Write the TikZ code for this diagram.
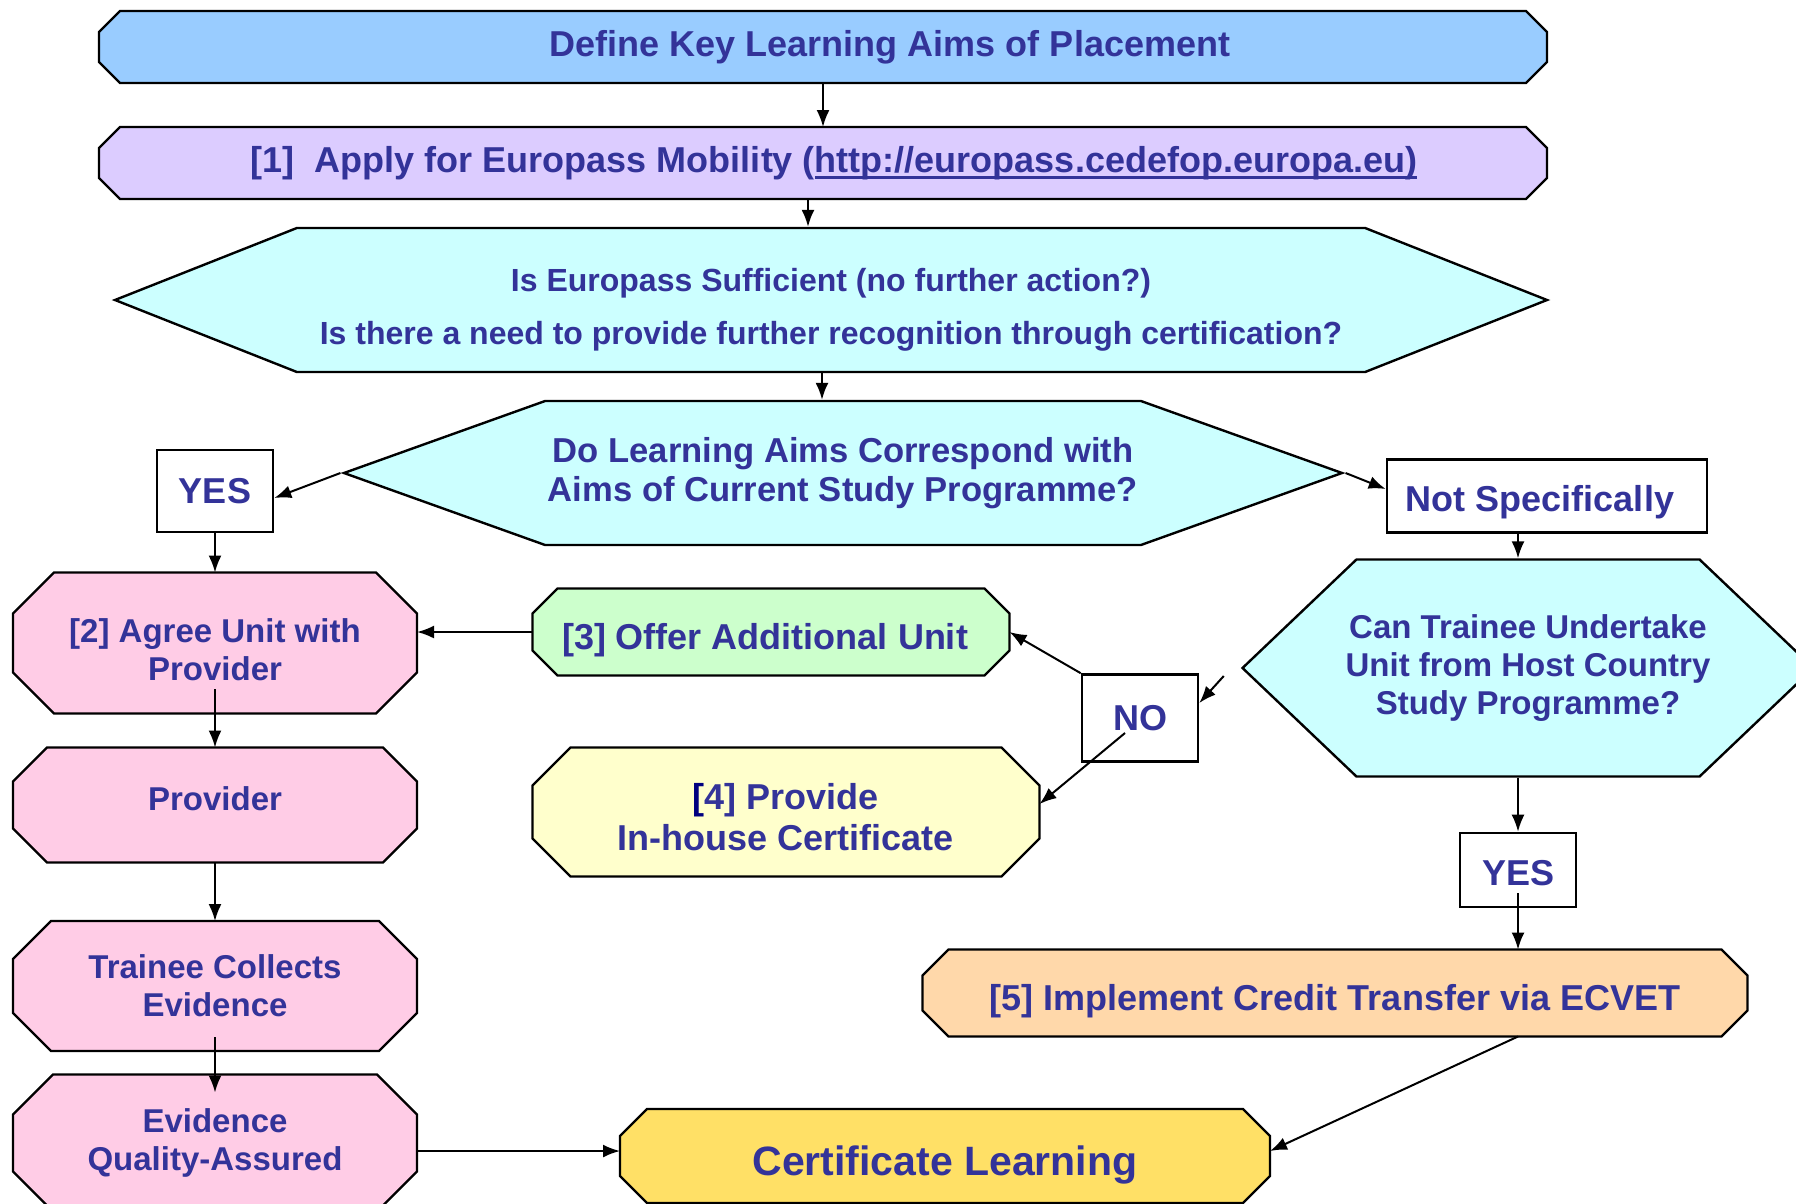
\documentclass[tikz,border=0pt]{standalone}
\usepackage{fontspec}
\setmainfont{Liberation Sans}
\usetikzlibrary{shapes.symbols,arrows.meta,backgrounds}

\definecolor{ink}{HTML}{333399}
\definecolor{navy}{HTML}{000080}
\definecolor{keyblue}{HTML}{99CCFF}
\definecolor{lilac}{HTML}{DCCCFF}
\definecolor{quest}{HTML}{CCFFFF}
\definecolor{rosy}{HTML}{FFCCE6}
\definecolor{mint}{HTML}{CCFFCC}
\definecolor{cream}{HTML}{FFFFCC}
\definecolor{peach}{HTML}{FFD8AA}
\definecolor{gold}{HTML}{FFE066}

\newsavebox\linkbox
\newcommand\weblink[1]{\sbox\linkbox{#1}\rlap{\rule[-6.4pt]{\wd\linkbox}{2.4pt}}\usebox\linkbox}

\tikzset{
  octbox/.style={rectangle, inner sep=0pt, outer sep=0pt, align=center, text=ink},
  octline/.style={draw, line width=2.4pt},
  hexbox/.style={signal, signal to=west and east, draw, line width=2.4pt, fill=quest, inner sep=0pt, align=center, text=ink},
  answer/.style={rectangle, draw, line width=2.6pt, fill=white, inner sep=0pt, text=ink, minimum width=116pt},
  big/.style={font=\bfseries\fontsize{36}{40}\selectfont},
  mid/.style={font=\bfseries\fontsize{33}{38}\selectfont},
  flow/.style={-{Latex[length=17pt,width=13pt]}, line width=2pt},
}

\begin{document}
\begin{tikzpicture}[x=1pt,y=-1pt]

  \useasboundingbox (0,0) rectangle (1796,1203);

  % Define nodes

  \node[octbox, big, minimum width=1448pt, minimum height=72pt] (aims) at (823,47) {\hspace*{134pt}Define Key Learning Aims of Placement};
  \node[octbox, big, minimum width=1448pt, minimum height=72pt] (europass) at (823,163) {\hspace*{22pt}[1]\ \ Apply for Europass Mobility (\weblink{http://europass.cedefop.europa.eu)}};
  \node[hexbox, font=\bfseries\fontsize{32}{53}\selectfont, text height=88pt, text depth=0pt, minimum width=1432pt, minimum height=144pt, signal pointer angle=43.2] (sufficient) at (831,300) {Is Europass Sufficient (no further action?)\\Is there a need to provide further recognition through certification?};
  \node[hexbox, font=\bfseries\fontsize{34.6}{39}\selectfont, minimum width=998pt, minimum height=144pt, signal pointer angle=39.4] (correspond) at (843,473) {Do Learning Aims Correspond with\\Aims of Current Study Programme?};

  \node[answer, big, minimum height=82pt] (yesA) at (215,491) {YES};
  \node[answer, big, text height=32pt, text depth=2pt, minimum width=320pt, minimum height=73pt] (notspec) at (1547,496) {\hspace*{-14pt}Not Specifically};

  \node[octbox, mid, text height=74pt, text depth=0pt, minimum width=404pt, minimum height=141pt] (agree) at (215,643) {[2] Agree Unit with\\Provider};
  \node[octbox, mid, text height=24pt, text depth=14pt, minimum width=404pt, minimum height=115pt] (provider) at (215,805) {Provider};
  \node[octbox, mid, minimum width=404pt, minimum height=130pt] (collects) at (215,986) {Trainee Collects\\Evidence};
  \node[octbox, mid, minimum width=404pt, minimum height=137pt] (assured) at (215,1143) {Evidence\\Quality-Assured};

  \node[octbox, big, text height=34pt, text depth=0pt, minimum width=477pt, minimum height=87pt] (offer) at (771,632) {\hspace*{-12pt}[3] Offer Additional Unit};
  \node[octbox, font=\bfseries\fontsize{36}{41}\selectfont, text height=77pt, text depth=0pt, minimum width=507pt, minimum height=129pt] (inhouse) at (786,812) {{\color{navy}[}4] Provide\\In-house Certificate};
  \node[answer, big, minimum height=87pt] (no) at (1140,718) {NO};

  \node[hexbox, mid, inner xsep=-12pt, minimum width=571pt, minimum height=217pt, signal pointer angle=87.2] (host) at (1528,668) {Can Trainee Undertake\\Unit from Host Country\\Study Programme?};
  \node[answer, big, text height=31pt, text depth=0pt, minimum height=74pt] (yesB) at (1518,870) {YES};
  \node[octbox, big, text height=34pt, text depth=0pt, minimum width=825pt, minimum height=87pt] (ecvet) at (1335,993) {[5] Implement Credit Transfer via ECVET};

  \node[octbox, font=\bfseries\fontsize{41}{46}\selectfont, text height=38pt, text depth=0pt, minimum width=650pt, minimum height=94pt] (certify) at (945,1156) {Certificate Learning};

  \coordinate (nohint) at ([shift={(-17pt,-8pt)}]host.west);

  % Octagon outlines behind the texts
  \begin{scope}[on background layer]
    \foreach \nd/\cut/\tint in {aims/21/keyblue, europass/21/lilac, agree/41/rosy, provider/34/rosy,
        collects/38/rosy, assured/40/rosy, offer/25/mint, inhouse/38/cream, ecvet/26/peach, certify/27/gold}
      \draw[octline, fill=\tint] ([xshift=\cut pt]\nd.north west) -- ([xshift=-\cut pt]\nd.north east)
        -- ([yshift=-\cut pt]\nd.north east) -- ([yshift=\cut pt]\nd.south east)
        -- ([xshift=-\cut pt]\nd.south east) -- ([xshift=\cut pt]\nd.south west)
        -- ([yshift=\cut pt]\nd.south west) -- ([yshift=-\cut pt]\nd.north west) -- cycle;
  \end{scope}

  % Connect the nodes
  \draw[flow] (aims) -- (europass);
  \draw[flow] ([xshift=-15pt]europass.south) -- ([xshift=-15pt]europass.south |- sufficient.north);
  \draw[flow] ([xshift=-9pt]sufficient.south) -- ([xshift=-9pt]sufficient.south |- correspond.north);
  \draw[flow] (correspond.west) -- ([yshift=-7pt]yesA.east);
  \draw[flow] (correspond.east) -- ([yshift=7pt]notspec.west);
  \draw[flow] (yesA) -- (agree);
  \draw[flow] ([yshift=-46pt]agree.center) -- (provider);
  \draw[flow] (provider) -- (collects);
  \draw[flow] ([yshift=-51pt]collects.center) -- ([yshift=-18pt]assured.north);
  \draw[flow] ([yshift=-8pt]assured.east) -- ([yshift=-8pt]assured.east -| certify.west);
  \draw[flow] (offer.west) -- (offer.west -| agree.east);
  \draw[flow] ([xshift=-29pt]notspec.south) -- ([xshift=-29pt]notspec.south |- host.north);
  \draw[flow] (nohint) -- ([yshift=15pt]no.east);
  \draw[flow] (no.north west) -- (offer.east);
  \draw[flow] ([shift={(-15pt,-15pt)}]no.center) -- ([yshift=8pt]inhouse.east);
  \draw[flow] (yesB |- host.south) -- (yesB);
  \draw[flow] ([yshift=-23pt]yesB.center) -- (yesB |- ecvet.north);
  \draw[flow] (yesB |- ecvet.south) -- ([yshift=5pt]certify.east);

\end{tikzpicture}
\end{document}
